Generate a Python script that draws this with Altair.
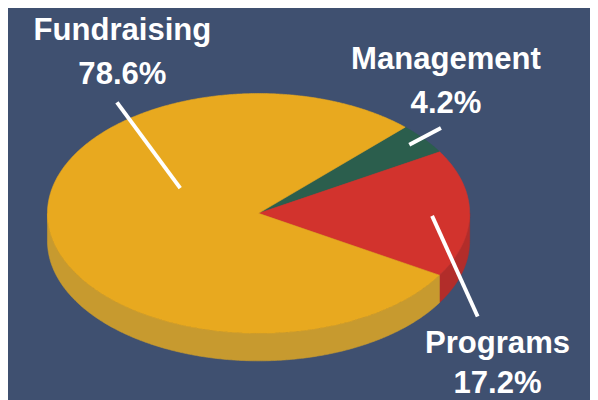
import numpy as np
import pandas as pd
import altair as alt

# ---- data ----
categories = ["Management", "Programs", "Fundraising"]
shares = [4.2, 17.2, 78.6]
pct_labels = ["4.2%", "17.2%", "78.6%"]

# ---- styles ----
top_colors = ["#2b5e4d", "#d2332d", "#e8a91f"]
side_colors = ["#224c3f", "#b22d2a", "#c79a2f"]
BG = "#3f5070"

# ---- layout (reference pixel frame) ----
CX, CY, RX, RY, DEPTH = 262.0, 213.5, 214.0, 121.5, 28.0
START = -46.0  # degrees, clockwise on screen
W, H = 590, 392

# label layout in ellipse-normalised units (u, v)
label_layout = {
    "Fundraising": dict(l0=(-0.371, -0.21), l1=(-0.671, -0.926), tu=-0.645, v1=-1.444, v2=-1.082),
    "Management": dict(l0=(0.714, -0.572), l1=(0.864, -0.712), tu=0.888, v1=-1.206, v2=-0.835),
    "Programs": dict(l0=(0.822, 0.021), l1=(1.038, 0.860), tu=1.132, v1=1.165, v2=1.502),
}


def ex(t):
    return CX + RX * np.cos(np.radians(t))


def ey(t):
    return CY + RY * np.sin(np.radians(t))


total = sum(shares)
top_rows, side_rows = [], []
cum = START
for cat, s in zip(categories, shares):
    span = s / total * 360.0
    a0, a1 = cum, cum + span
    ts = np.linspace(a0, a1, max(int(span * 2), 6))
    top_rows.append(dict(cat=cat, k=0, x=CX, y=CY))
    for j, t in enumerate(ts):
        top_rows.append(dict(cat=cat, k=j + 1, x=float(ex(t)), y=float(ey(t))))
    top_rows.append(dict(cat=cat, k=len(ts) + 1, x=CX, y=CY))
    f0, f1 = max(a0, 0.0), min(a1, 180.0)
    if f1 > f0:
        fs = np.linspace(f0, f1, max(int((f1 - f0) * 2), 6))
        k = 0
        for t in fs:  # upper rim, forward
            side_rows.append(dict(cat=cat, k=k, x=float(ex(t)), y=float(ey(t))))
            k += 1
        for t in fs[::-1]:  # lower rim, backward
            side_rows.append(dict(cat=cat, k=k, x=float(ex(t)), y=float(ey(t) + DEPTH)))
            k += 1
        side_rows.append(dict(cat=cat, k=k, x=float(ex(fs[0])), y=float(ey(fs[0]))))
    cum = a1

top_df = pd.DataFrame(top_rows)
side_df = pd.DataFrame(side_rows)

line_rows, text_rows = [], []
for cat, p in zip(categories, pct_labels):
    L = label_layout[cat]
    line_rows.append(dict(cat=cat,
                          x=CX + RX * L["l0"][0], y=CY + RY * L["l0"][1],
                          x2=CX + RX * L["l1"][0], y2=CY + RY * L["l1"][1]))
    text_rows.append(dict(txt=cat, x=CX + RX * L["tu"], y=CY + RY * L["v1"]))
    text_rows.append(dict(txt=p, x=CX + RX * L["tu"], y=CY + RY * L["v2"]))
line_df = pd.DataFrame(line_rows)
text_df = pd.DataFrame(text_rows)

xs = alt.Scale(domain=[8, 8 + W], nice=False, zero=False)
ys = alt.Scale(domain=[8 + H, 8], nice=False, zero=False)

side_scale = alt.Scale(domain=categories, range=side_colors)
top_scale = alt.Scale(domain=categories, range=top_colors)

sides = alt.Chart(side_df).mark_line(strokeWidth=0.6, strokeJoin="round").encode(
    x=alt.X("x:Q", scale=xs, axis=None),
    y=alt.Y("y:Q", scale=ys, axis=None),
    order="k:Q",
    detail="cat:N",
    stroke=alt.Stroke("cat:N", scale=side_scale, legend=None),
    fill=alt.Fill("cat:N", scale=side_scale, legend=None),
)

tops = alt.Chart(top_df).mark_line(strokeWidth=0.6, strokeJoin="round").encode(
    x=alt.X("x:Q", scale=xs, axis=None),
    y=alt.Y("y:Q", scale=ys, axis=None),
    order="k:Q",
    detail="cat:N",
    stroke=alt.Stroke("cat:N", scale=top_scale, legend=None),
    fill=alt.Fill("cat:N", scale=top_scale, legend=None),
)

leaders = alt.Chart(line_df).mark_rule(color="white", strokeWidth=4).encode(
    x=alt.X("x:Q", scale=xs, axis=None),
    y=alt.Y("y:Q", scale=ys, axis=None),
    x2="x2:Q",
    y2="y2:Q",
)

texts = alt.Chart(text_df).mark_text(
    color="white", font="Liberation Sans", fontWeight="bold", fontSize=31.5,
    align="center", baseline="alphabetic",
).encode(
    x=alt.X("x:Q", scale=xs, axis=None),
    y=alt.Y("y:Q", scale=ys, axis=None),
    text="txt:N",
)

chart = alt.layer(sides, tops, leaders, texts).resolve_scale(
    fill="independent", stroke="independent"
).properties(
    width=W, height=H, padding=0, background=BG,
    autosize=alt.AutoSizeParams(type="none"),
).configure_view(stroke=None)

chart.save("out.html", embed_options={"renderer": "svg", "actions": False})
